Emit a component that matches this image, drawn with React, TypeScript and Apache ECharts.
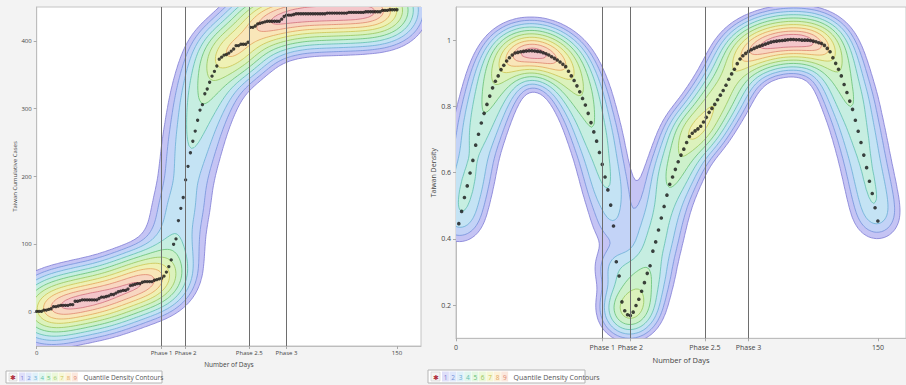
import React, { useEffect, useRef } from 'react';
import * as echarts from 'echarts';

// ---------- data ----------
const casesFirstDay = 0;
const casesValues: number[] = [
  1, 1, 1, 3, 3, 4, 5, 8, 8, 9,
  10, 10, 10, 10, 11, 11, 16, 16, 17, 18,
  18, 18, 18, 18, 18, 18, 20, 22, 22, 23,
  24, 26, 26, 28, 30, 31, 32, 32, 34, 39,
  40, 41, 42, 42, 44, 45, 45, 45, 45, 47,
  48, 49, 50, 53, 59, 67, 77, 100, 108, 135,
  153, 169, 195, 215, 235, 252, 267, 283, 298, 306,
  322, 329, 339, 348, 355, 363, 373, 376, 379, 380,
  382, 385, 388, 393, 393, 395, 395, 395, 398, 420,
  420, 422, 425, 426, 427, 428, 429, 429, 429, 429,
  429, 429, 432, 436, 438, 438, 438, 439, 440, 440,
  440, 440, 440, 440, 440, 440, 440, 440, 440, 440,
  440, 441, 441, 441, 441, 441, 441, 441, 441, 441,
  442, 442, 442, 442, 442, 442, 442, 443, 443, 443,
  443, 443, 443, 443, 445, 445, 445, 446, 446, 446,
  446,
];

const densityFirstDay = 1;
const densityValues: number[] = [
  0.446, 0.483, 0.525, 0.56, 0.599, 0.637, 0.683, 0.716, 0.75, 0.779,
  0.806, 0.831, 0.856, 0.876, 0.892, 0.911, 0.924, 0.937, 0.947, 0.955,
  0.961, 0.963, 0.965, 0.966, 0.967, 0.968, 0.968, 0.967, 0.966, 0.965,
  0.962, 0.959, 0.955, 0.95, 0.945, 0.94, 0.934, 0.927, 0.92, 0.906,
  0.892, 0.878, 0.862, 0.844, 0.824, 0.804, 0.779, 0.751, 0.723, 0.695,
  0.661, 0.625, 0.587, 0.548, 0.502, 0.439, 0.331, 0.288, 0.21, 0.183,
  0.171, 0.169, 0.179, 0.199, 0.218, 0.242, 0.268, 0.296, 0.319, 0.363,
  0.391, 0.427, 0.463, 0.498, 0.532, 0.565, 0.587, 0.61, 0.633, 0.653,
  0.671, 0.691, 0.709, 0.719, 0.726, 0.732, 0.74, 0.753, 0.767, 0.782,
  0.794, 0.806, 0.82, 0.834, 0.848, 0.864, 0.882, 0.898, 0.912, 0.929,
  0.943, 0.953, 0.96, 0.966, 0.971, 0.975, 0.979, 0.982, 0.985, 0.988,
  0.991, 0.994, 0.996, 0.997, 0.998, 0.999, 1.0, 1.001, 1.002, 1.002,
  1.001, 1.001, 1.0, 1.0, 1.0, 0.999, 0.997, 0.995, 0.992, 0.99,
  0.984, 0.975, 0.965, 0.947, 0.93, 0.912, 0.892, 0.866, 0.842, 0.816,
  0.791, 0.758, 0.725, 0.691, 0.653, 0.615, 0.574, 0.537, 0.494, 0.454,
];

const phaseDays = [52, 62, 88.5, 104];
const phaseNames = ['Phase 1', 'Phase 2', 'Phase 2.5', 'Phase 3'];
const xEndTick = 150;
const casesTicks = [0, 100, 200, 300, 400];
const densityTicks = [0.2, 0.4, 0.6, 0.8, 1];
const legendNumbers = ['1', '2', '3', '4', '5', '6', '7', '8', '9'];
const legendTitle = 'Quantile Density Contours';

// contour levels as fractions of the peak density (outer -> inner)
const contourLevels = [0.044, 0.076, 0.125, 0.194, 0.287, 0.402, 0.533, 0.667, 0.799, 0.908];
const contourFills = ['#c5c4f4', '#c3d3f7', '#c4e3f4', '#c6eee1', '#cdf1cb', '#dcf2bc', '#eff1b4', '#f9e6b9', '#f8d6c1', '#f3c6ca'];
const contourStrokes = ['#7e7bd4', '#7392da', '#69aed6', '#5fbfae', '#66c074', '#97c65c', '#cbc452', '#e3a65b', '#df866f', '#d26e7b'];

const FONT = "'Open Sans', 'Noto Sans', sans-serif";

// ---------- density estimation + marching squares ----------
type Pt = [number, number];

function extractRings(v: Float64Array, nx: number, ny: number, L: number, x0: number, y0: number, dx: number, dy: number): Pt[][] {
  const pts = new Map<number, Pt>();
  const adj = new Map<number, number[]>();
  const val = (i: number, j: number) => v[j * nx + i];
  const hId = (i: number, j: number) => (j * nx + i) * 2;
  const vId = (i: number, j: number) => (j * nx + i) * 2 + 1;
  const pointH = (i: number, j: number) => {
    const id = hId(i, j);
    if (pts.has(id)) return;
    const a = val(i, j), b = val(i + 1, j);
    const t = (L - a) / (b - a);
    pts.set(id, [x0 + (i + t) * dx, y0 + j * dy]);
  };
  const pointV = (i: number, j: number) => {
    const id = vId(i, j);
    if (pts.has(id)) return;
    const a = val(i, j), b = val(i, j + 1);
    const t = (L - a) / (b - a);
    pts.set(id, [x0 + i * dx, y0 + (j + t) * dy]);
  };
  const add = (e: number, f: number) => {
    let arr = adj.get(e);
    if (!arr) { arr = []; adj.set(e, arr); }
    arr.push(f);
  };
  const link = (e: number, f: number) => { add(e, f); add(f, e); };
  for (let j = 0; j < ny - 1; j++) {
    for (let i = 0; i < nx - 1; i++) {
      const va = val(i, j), vb = val(i + 1, j), vc = val(i + 1, j + 1), vd = val(i, j + 1);
      const a = va >= L, b = vb >= L, c = vc >= L, d = vd >= L;
      const code = (a ? 1 : 0) | (b ? 2 : 0) | (c ? 4 : 0) | (d ? 8 : 0);
      if (code === 0 || code === 15) continue;
      const B = hId(i, j), R = vId(i + 1, j), T = hId(i, j + 1), Lf = vId(i, j);
      const edges: number[] = [];
      if (a !== b) { pointH(i, j); edges.push(B); }
      if (b !== c) { pointV(i + 1, j); edges.push(R); }
      if (c !== d) { pointH(i, j + 1); edges.push(T); }
      if (d !== a) { pointV(i, j); edges.push(Lf); }
      if (edges.length === 2) {
        link(edges[0], edges[1]);
      } else if (edges.length === 4) {
        const m = (va + vb + vc + vd) / 4;
        if (code === 5) {
          if (m >= L) { link(B, R); link(T, Lf); } else { link(B, Lf); link(R, T); }
        } else {
          if (m >= L) { link(B, Lf); link(R, T); } else { link(B, R); link(T, Lf); }
        }
      }
    }
  }
  const visited = new Set<number>();
  const rings: Pt[][] = [];
  for (const start of adj.keys()) {
    if (visited.has(start)) continue;
    const ring: Pt[] = [];
    let prev = -1;
    let cur = start;
    for (let guard = 0; guard < 200000; guard++) {
      visited.add(cur);
      ring.push(pts.get(cur)!);
      const nb = adj.get(cur)!;
      const next = prev === -1 ? nb[0] : (nb[0] !== prev ? nb[0] : nb[1]);
      if (next === undefined || next === start || visited.has(next)) break;
      prev = cur;
      cur = next;
    }
    if (ring.length > 2) rings.push(ring);
  }
  const area = (r: Pt[]) => {
    let s = 0;
    for (let k = 0; k < r.length; k++) {
      const p = r[k], q = r[(k + 1) % r.length];
      s += p[0] * q[1] - q[0] * p[1];
    }
    return s / 2;
  };
  const inside = (p: Pt, r: Pt[]) => {
    let c = false;
    for (let k = 0, l = r.length - 1; k < r.length; l = k++) {
      const a = r[k], b = r[l];
      if ((a[1] > p[1]) !== (b[1] > p[1]) && p[0] < ((b[0] - a[0]) * (p[1] - a[1])) / (b[1] - a[1]) + a[0]) c = !c;
    }
    return c;
  };
  return rings.map((r, idx) => {
    let depth = 0;
    for (let o = 0; o < rings.length; o++) if (o !== idx && inside(r[0], rings[o])) depth++;
    const want = depth % 2 === 0 ? 1 : -1;
    return Math.sign(area(r)) === want ? r : r.slice().reverse();
  });
}

function computeContours(xs: number[], ys: number[], hx: number, hy: number, xr: [number, number], yr: [number, number], nx: number, ny: number): Pt[][][] {
  const n = xs.length;
  const dx = (xr[1] - xr[0]) / (nx - 1);
  const dy = (yr[1] - yr[0]) / (ny - 1);
  const ex = new Float64Array(nx * n);
  const ey = new Float64Array(ny * n);
  for (let i = 0; i < nx; i++) {
    const gx = xr[0] + i * dx;
    for (let p = 0; p < n; p++) { const t = (gx - xs[p]) / hx; ex[i * n + p] = Math.exp(-0.5 * t * t); }
  }
  for (let j = 0; j < ny; j++) {
    const gy = yr[0] + j * dy;
    for (let p = 0; p < n; p++) { const t = (gy - ys[p]) / hy; ey[j * n + p] = Math.exp(-0.5 * t * t); }
  }
  const v = new Float64Array(nx * ny);
  let peak = 0;
  for (let j = 0; j < ny; j++) {
    for (let i = 0; i < nx; i++) {
      let s = 0;
      const oi = i * n, oj = j * n;
      for (let p = 0; p < n; p++) s += ex[oi + p] * ey[oj + p];
      v[j * nx + i] = s;
      if (s > peak) peak = s;
    }
  }
  for (let i = 0; i < nx; i++) { v[i] = 0; v[(ny - 1) * nx + i] = 0; }
  for (let j = 0; j < ny; j++) { v[j * nx] = 0; v[j * nx + nx - 1] = 0; }
  return contourLevels.map((f) => extractRings(v, nx, ny, f * peak, xr[0], yr[0], dx, dy));
}

function contourSeries(contours: Pt[][][], axisIndex: number, anchor: [number, number]) {
  return {
    type: 'custom',
    xAxisIndex: axisIndex,
    yAxisIndex: axisIndex,
    clip: true,
    silent: true,
    z: 1,
    data: contours.map(() => anchor),
    renderItem: (params: any, api: any) => {
      const k = params.dataIndex;
      let d = '';
      for (const ring of contours[k]) {
        for (let q = 0; q < ring.length; q++) {
          const c = api.coord(ring[q]);
          d += (q === 0 ? 'M' : 'L') + c[0].toFixed(2) + ' ' + c[1].toFixed(2);
        }
        d += 'Z';
      }
      return {
        type: 'path',
        shape: { pathData: d },
        style: { fill: contourFills[k], stroke: contourStrokes[k], lineWidth: 0.8 },
      };
    },
  };
}

function legendGraphics(x: number, y: number, w: number, h: number, step: number, fs: number) {
  const els: any[] = [];
  els.push({ type: 'rect', shape: { x, y, width: w, height: h }, style: { fill: '#ffffff', stroke: '#b5b5b5', lineWidth: 1 } });
  els.push({ type: 'rect', shape: { x: x + 3, y: y + 2, width: h - 4, height: h - 4 }, style: { fill: '#f4f4f4', stroke: '#cfcfcf', lineWidth: 0.6 } });
  els.push({ type: 'text', style: { x: x + 3 + (h - 4) / 2, y: y + h / 2 + 0.5, text: '✱', fontSize: fs, fill: '#b03040', align: 'center', verticalAlign: 'middle', fontFamily: FONT } });
  const nx0 = x + h + 1;
  legendNumbers.forEach((s, k) => {
    els.push({ type: 'rect', shape: { x: nx0 + k * step, y: y + 1.5, width: step - 0.5, height: h - 3 }, style: { fill: contourFills[k], opacity: 0.55 } });
    els.push({ type: 'text', style: { x: nx0 + k * step + step / 2, y: y + h / 2 + 0.5, text: s, fontSize: fs - 0.5, fill: contourStrokes[k], align: 'center', verticalAlign: 'middle', fontFamily: FONT } });
  });
  els.push({ type: 'text', style: { x: nx0 + 9 * step + 5, y: y + h / 2 + 0.5, text: legendTitle, fontSize: fs, fill: '#555', align: 'left', verticalAlign: 'middle', fontFamily: FONT } });
  return els;
}

function buildOption() {
  const casesDays = casesValues.map((_, k) => casesFirstDay + k);
  const densityDays = densityValues.map((_, k) => densityFirstDay + k);
  const leftC = computeContours(casesDays, casesValues, 7.3, 25, [-40, 200], [-220, 640], 240, 240);
  const rightC = computeContours(densityDays, densityValues, 5.2, 0.043, [-30, 190], [-0.25, 1.45], 240, 220);
  const xLabelValues = [0, ...phaseDays, xEndTick];
  const xFmt = (v: number) => {
    const k = phaseDays.indexOf(v);
    return k >= 0 ? phaseNames[k] : String(v);
  };
  const xAxisCommon = (fs: number, margin: number, gap: number) => ({
    type: 'value',
    min: 0,
    max: 160,
    name: 'Number of Days',
    nameLocation: 'middle',
    nameGap: gap,
    nameTextStyle: { fontSize: fs, color: '#444444', fontFamily: FONT },
    axisLine: { show: true, onZero: false, lineStyle: { color: '#bdbdbd' } },
    axisTick: { show: true, customValues: xLabelValues, length: 3, lineStyle: { color: '#aaa' } },
    axisLabel: { customValues: xLabelValues, formatter: xFmt, fontSize: fs - 0.5, color: '#444', margin, fontFamily: FONT, hideOverlap: false },
    splitLine: { show: false },
  });
  const phaseMarks = {
    symbol: ['none', 'none'],
    silent: true,
    label: { show: false },
    lineStyle: { color: '#6e6e6e', width: 1, type: 'solid' },
    data: phaseDays.map((d) => ({ xAxis: d })),
  };
  return {
    animation: false,
    backgroundColor: '#f3f3f3',
    grid: [
      { left: 36.7, top: 7, width: 384.3, height: 339, show: true, backgroundColor: '#ffffff', borderColor: '#c4c4c4', borderWidth: 1 },
      { left: 456, top: 7, width: 459.7, height: 331.3, show: true, backgroundColor: '#ffffff', borderColor: '#c4c4c4', borderWidth: 1 },
    ],
    xAxis: [
      { ...xAxisCommon(6.5, 4, 14), gridIndex: 0 },
      { ...xAxisCommon(7.5, 6, 17), gridIndex: 1 },
    ],
    yAxis: [
      {
        type: 'value', gridIndex: 0, min: -50, max: 450,
        name: 'Taiwan Cumulative Cases', nameLocation: 'middle', nameGap: 19, nameRotate: 90,
        nameTextStyle: { fontSize: 6, color: '#444', fontFamily: FONT },
        axisLine: { show: true, onZero: false, lineStyle: { color: '#bdbdbd' } },
        axisTick: { show: true, customValues: casesTicks, length: 3, lineStyle: { color: '#aaa' } },
        axisLabel: { customValues: casesTicks, fontSize: 6, color: '#444', margin: 5, fontFamily: FONT },
        splitLine: { show: false },
      },
      {
        type: 'value', gridIndex: 1, min: 0.1, max: 1.1,
        name: 'Taiwan Density', nameLocation: 'middle', nameGap: 16, nameRotate: 90,
        nameTextStyle: { fontSize: 7, color: '#444', fontFamily: FONT },
        axisLine: { show: true, onZero: false, lineStyle: { color: '#bdbdbd' } },
        axisTick: { show: true, customValues: densityTicks, length: 3, lineStyle: { color: '#aaa' } },
        axisLabel: { customValues: densityTicks, fontSize: 7, color: '#444', margin: 5, fontFamily: FONT },
        splitLine: { show: false },
      },
    ],
    graphic: [...legendGraphics(6, 371, 156, 12, 6.6, 6.5), ...legendGraphics(428, 370, 157, 13, 7.4, 7)],
    series: [
      contourSeries(leftC, 0, [10, 0]),
      {
        type: 'scatter', xAxisIndex: 0, yAxisIndex: 0, z: 4, silent: true,
        symbol: 'circle', symbolSize: 3.3,
        itemStyle: { color: '#141414' },
        data: casesDays.map((d, k) => [d, casesValues[k]]),
        markLine: phaseMarks,
      },
      contourSeries(rightC, 1, [10, 0.5]),
      {
        type: 'scatter', xAxisIndex: 1, yAxisIndex: 1, z: 4, silent: true,
        symbol: 'circle', symbolSize: 3.6,
        itemStyle: { color: '#141414' },
        data: densityDays.map((d, k) => [d, densityValues[k]]),
        markLine: phaseMarks,
      },
    ],
  };
}

export default function App() {
  const ref = useRef<HTMLDivElement>(null);
  useEffect(() => {
    if (!ref.current) return;
    const chart = echarts.init(ref.current, undefined, { renderer: 'svg', width: 906, height: 385 });
    chart.setOption(buildOption() as any);
    return () => chart.dispose();
  }, []);
  return <div ref={ref} style={{ position: 'absolute', left: 0, top: 0, width: 906, height: 385, overflow: 'hidden' }} />;
}
